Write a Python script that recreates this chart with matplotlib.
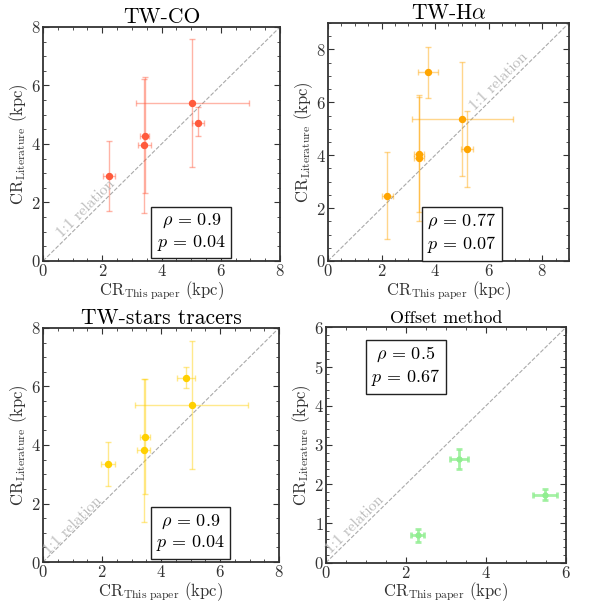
import matplotlib
matplotlib.use("Agg")
import matplotlib.pyplot as plt
from matplotlib.ticker import MultipleLocator

plt.rcParams["font.family"] = ["cmr10", "DejaVu Serif"]
plt.rcParams["mathtext.fontset"] = "cm"
plt.rcParams["axes.formatter.use_mathtext"] = True

# TW-CO
co_x = [2.22, 3.43, 3.42, 5.04, 5.22]
co_y = [2.91, 4.27, 3.97, 5.39, 4.73]
co_xerr = [0.21, 0.16, 0.22, 1.9, 0.2]
co_yerr_lo = [1.2, 1.95, 2.34, 2.19, 0.47]
co_yerr_hi = [1.2, 2.01, 2.25, 2.2, 0.53]

# TW-Halpha
ha_x = [2.21, 3.74, 3.40, 3.40, 5.02, 5.19]
ha_y = [2.46, 7.15, 4.03, 3.89, 5.38, 4.23]
ha_xerr = [0.2, 0.37, 0.2, 0.2, 1.89, 0.23]
ha_yerr_lo = [1.64, 0.97, 2.53, 2.03, 2.17, 1.45]
ha_yerr_hi = [1.65, 0.95, 2.23, 2.31, 2.15, 1.45]

# TW-stars tracers
st_x = [2.21, 3.45, 3.41, 4.84, 5.04]
st_y = [3.35, 4.27, 3.82, 6.30, 5.38]
st_xerr = [0.23, 0.16, 0.22, 0.3, 1.91]
st_yerr_lo = [0.75, 1.95, 2.46, 0.37, 2.19]
st_yerr_hi = [0.74, 2.0, 2.45, 0.37, 2.18]

# Offset method
of_x = [2.29, 3.32, 5.48]
of_y = [0.70, 2.65, 1.73]
of_xerr = [0.17, 0.22, 0.3]
of_yerr = [0.17, 0.25, 0.14]

panels = [
    dict(title="TW-CO", x=co_x, y=co_y, xerr=co_xerr, yerr=[co_yerr_lo, co_yerr_hi],
         color="#ff5a3c", lim=8, major=2, yminor=0.5, rect=[0.0729, 0.5686, 0.4017, 0.3868],
         stats=r"$\rho\,=\,0.9$" + "\n" + r"$p\,=\,0.04$", box=(5.0, 0.98),
         lab=(1.45, 1.8), tsize=15.5, elw=1.0, ms=4.3, alpha=0.45),
    dict(title=r"TW-H$\alpha$", x=ha_x, y=ha_y, xerr=ha_xerr, yerr=[ha_yerr_lo, ha_yerr_hi],
         color="#ffa500", lim=9, major=2, yminor=0.5, rect=[0.5559, 0.5686, 0.4085, 0.3934],
         stats=r"$\rho\,=\,0.77$" + "\n" + r"$p\,=\,0.07$", box=(5.0, 1.03),
         lab=(6.4, 6.8), tsize=15.5, elw=1.0, ms=4.3, alpha=0.45),
    dict(title="TW-stars tracers", x=st_x, y=st_y, xerr=st_xerr, yerr=[st_yerr_lo, st_yerr_hi],
         color="#ffd000", lim=8, major=2, yminor=0.5, rect=[0.0729, 0.0710, 0.40, 0.387],
         stats=r"$\rho\,=\,0.9$" + "\n" + r"$p\,=\,0.04$", box=(5.0, 1.0),
         lab=(1.0, 1.25), tsize=15.5, elw=1.0, ms=4.3, alpha=0.45),
    dict(title="Offset method", x=of_x, y=of_y, xerr=of_xerr, yerr=of_yerr,
         color="#90ee90", lim=6, major=2, yminor=0.2, ymajor=1, rect=[0.5525, 0.0700, 0.4068, 0.389],
         stats=r"$\rho\,=\,0.5$" + "\n" + r"$p\,=\,0.67$", box=(2.0, 5.0),
         lab=(0.72, 0.98), tsize=13, elw=2.0, ms=3.5, alpha=0.8),
]

fig = plt.figure(figsize=(5.9, 6.05), dpi=100)

for p in panels:
    ax = fig.add_axes(p["rect"])
    lim = p["lim"]
    ax.plot([0, lim], [0, lim], ls="--", color="#aaaaaa", lw=0.8, zorder=1)
    ax.errorbar(p["x"], p["y"], xerr=p["xerr"], yerr=p["yerr"], fmt="none",
                ecolor=p["color"], alpha=p["alpha"], elinewidth=p["elw"], capsize=2,
                capthick=p["elw"], zorder=2)
    ax.plot(p["x"], p["y"], "o", color=p["color"], ms=p["ms"], zorder=3)
    ax.set_xlim(0, lim)
    ax.set_ylim(0, lim)
    ax.xaxis.set_major_locator(MultipleLocator(p["major"]))
    ax.xaxis.set_minor_locator(MultipleLocator(0.5))
    ax.yaxis.set_major_locator(MultipleLocator(p.get("ymajor", p["major"])))
    ax.yaxis.set_minor_locator(MultipleLocator(p["yminor"]))
    ax.tick_params(which="both", direction="in", top=True, right=True,
                   labelsize=12, colors="#333333", pad=1.5)
    ax.tick_params(which="major", length=4, width=0.8)
    ax.tick_params(which="minor", length=2, width=0.6)
    for s in ax.spines.values():
        s.set_color("#333333")
        s.set_linewidth(1.3)
    ax.set_title(p["title"], fontsize=p["tsize"], pad=3)
    ax.set_xlabel(r"CR$_{\mathrm{This\ paper}}$ (kpc)", fontsize=12, color="#333333", labelpad=0)
    ax.set_ylabel(r"CR$_{\mathrm{Literature}}$ (kpc)", fontsize=12, color="#333333", labelpad=1)
    ax.text(p["lab"][0], p["lab"][1], "1:1 relation", rotation=45, color="#bbbbbb",
            fontsize=11, ha="center", va="center", rotation_mode="anchor")
    ax.text(p["box"][0], p["box"][1], p["stats"], fontsize=13, ha="center", va="center",
            bbox=dict(boxstyle="square,pad=0.3", fc="white", ec="#222222", lw=1.0))

fig.savefig("out.png", dpi=100)
